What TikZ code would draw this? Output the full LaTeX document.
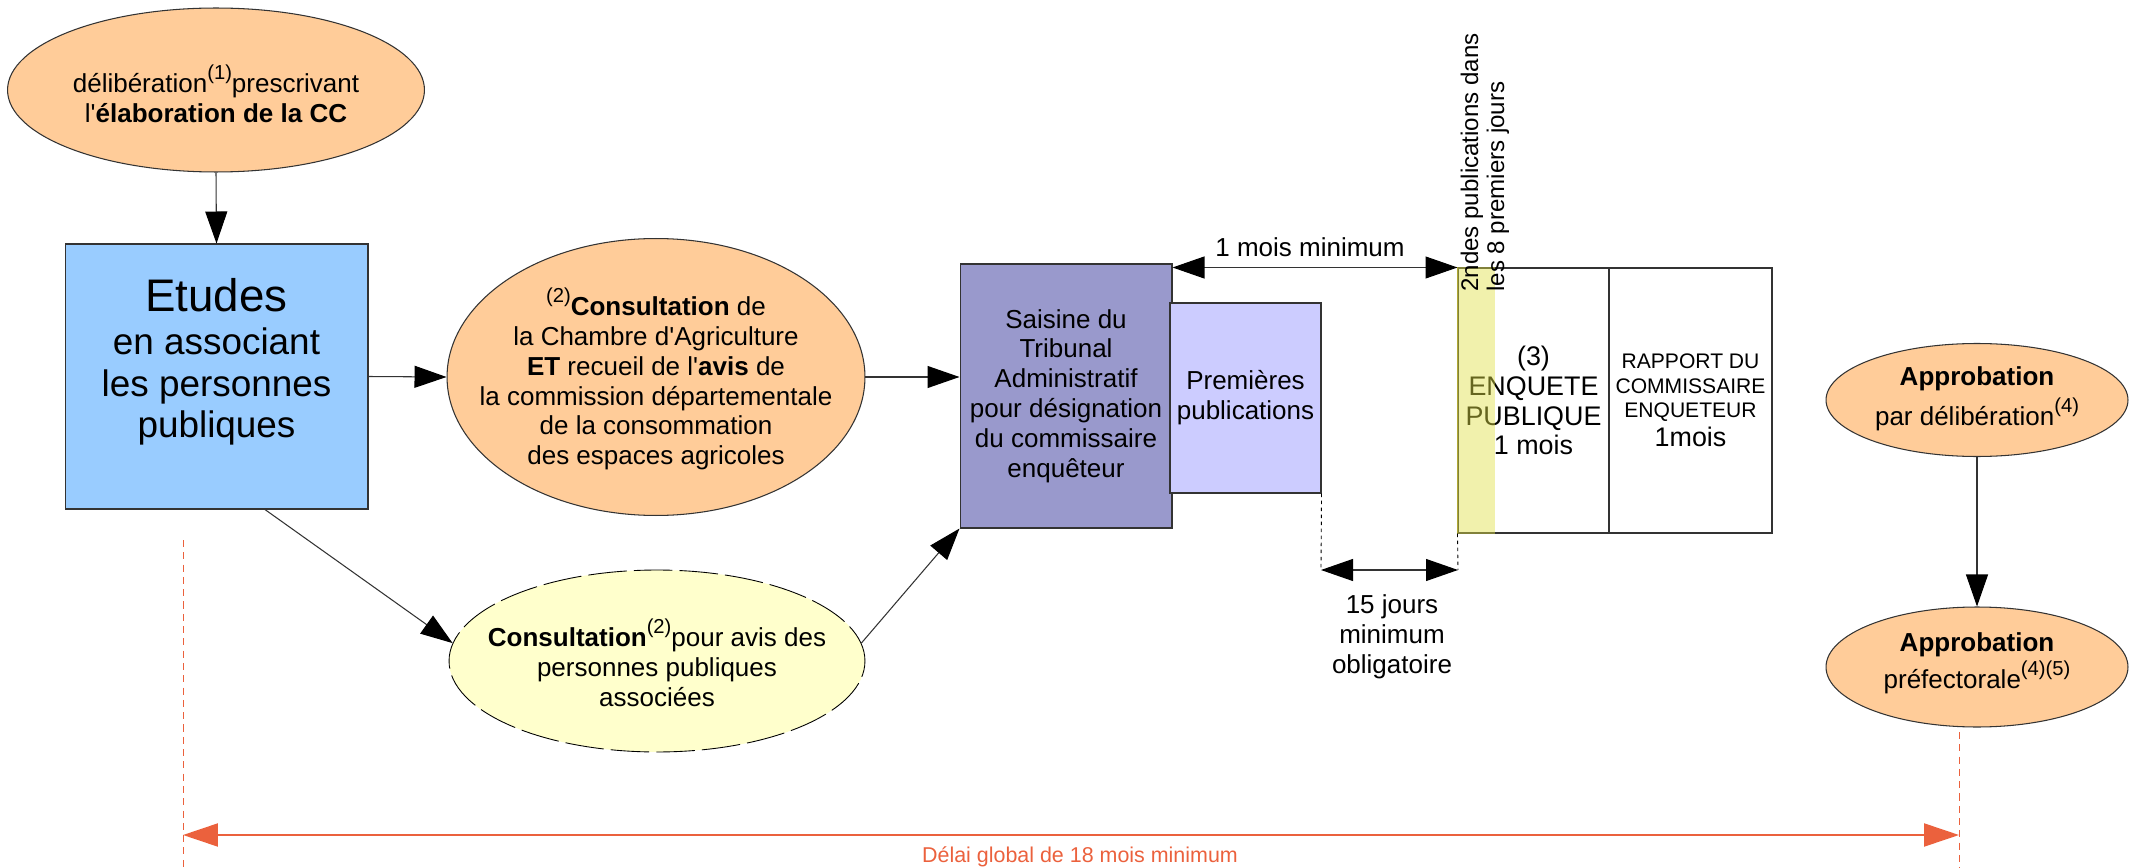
\documentclass[tikz,border=0pt]{standalone}
\usepackage{fontspec}
\setmainfont{Liberation Sans}[Ligatures=TeXOff]
\usetikzlibrary{arrows.meta,shapes.geometric}
\definecolor{orangeclair}{HTML}{FFCC99}
\definecolor{jauneclair}{HTML}{FFFFCC}
\definecolor{bleuclair}{HTML}{99CCFF}
\definecolor{mauve}{HTML}{9999CC}
\definecolor{mauveclair}{HTML}{CCCCFF}
\definecolor{bande}{RGB}{225,225,70}
\definecolor{rouge}{HTML}{EB613D}
\newcommand{\expo}[1]{\raisebox{0.5em}{\fontsize{11.5}{12}\selectfont #1}}

\begin{document}
\begin{tikzpicture}[x=0.02cm,y=-0.02cm,
  font=\fontsize{14.8}{17}\selectfont,
  trait/.style={draw=black!80,line width=0.6pt},
  ovale/.style={ellipse,trait,fill=orangeclair,inner sep=0pt},
  boite/.style={rectangle,trait,inner sep=2pt,align=center},
  txt/.style={align=center,inner sep=0pt},
  fleche/.style={draw=black!80,line width=0.6pt,-{Triangle[length=0.64cm,width=0.44cm,color=black]}},
  dblfleche/.style={draw=black!80,line width=0.6pt,{Triangle[length=0.64cm,width=0.44cm,color=black]}-{Triangle[length=0.64cm,width=0.44cm,color=black]}},
  repere/.style={draw=black,line width=0.5pt,dash pattern=on 2pt off 2pt},
  reperer/.style={draw=rouge,line width=0.5pt,dash pattern=on 4pt off 3pt}]
\useasboundingbox (0,0) rectangle (2134,868);

\node[ovale,minimum width=8.34cm,minimum height=3.28cm] (delib) at (216,90) {};
\node[txt] (delibtxt) at (216,94) {délibération\expo{(1)}prescrivant\\l'\textbf{élaboration de la CC}};

\node[boite,fill=bleuclair,minimum width=6.06cm,minimum height=5.30cm] (etudes) at (216.5,376.5) {};
\node[txt,font=\fontsize{21}{23.5}\selectfont] (etudestxt) at (216.5,362) {{\fontsize{26}{30}\selectfont Etudes}\\[1pt]en associant\\les personnes\\publiques};

\node[ovale,minimum width=8.36cm,minimum height=5.54cm] (consult) at (656,377) {};
\node[txt] (consulttxt) at (656,379) {\expo{(2)}\textbf{Consultation} de\\la Chambre d'Agriculture\\\textbf{ET} recueil de l'\textbf{avis} de\\la commission départementale\\de la consommation\\des espaces agricoles};

\node[ellipse,draw=black,line width=0.5pt,dash pattern=on 22pt off 4pt,fill=jauneclair,inner sep=0pt,minimum width=8.32cm,minimum height=3.64cm] (ppa) at (657,661) {};
\node[txt] (ppatxt) at (657,663) {\textbf{Consultation}\expo{(2)}pour avis des\\personnes publiques\\associées};

\node[boite,fill=mauve,minimum width=4.24cm,minimum height=5.28cm] (saisine) at (1066,396) {Saisine du\\Tribunal\\Administratif\\pour désignation\\du commissaire\\enquêteur};
\node[boite,fill=mauveclair,minimum width=3.02cm,minimum height=3.80cm] (prem) at (1245.5,398) {Premières\\publications};

\node[boite,font=\fontsize{15.3}{17}\selectfont,minimum width=3.02cm,minimum height=5.30cm] (enq) at (1533.5,400.5) {(3)\\ENQUETE\\PUBLIQUE\\1 mois};
\node[boite,font=\fontsize{12}{13.7}\selectfont,minimum width=3.26cm,minimum height=5.30cm] (rapport) at (1690.5,400.5) {RAPPORT DU\\COMMISSAIRE\\ENQUETEUR\\[3pt]{\fontsize{15.3}{17}\selectfont 1mois}};
\fill[bande,fill opacity=0.45] ([xshift=0.3pt]enq.north west) rectangle ([xshift=0.76cm]enq.south west);
\draw[olive!70,line width=0.5pt] (enq.north west) -- (enq.south west);
\node[txt,rotate=90,anchor=west,align=left,font=\fontsize{13.7}{14.8}\selectfont] (secondes) at (1485,292) {2ndes publications dans\\les 8 premiers jours};

\node[ovale,minimum width=6.04cm,minimum height=2.26cm] (appro1) at (1977,400) {};
\node[txt] (appro1txt) at (1977,399) {\textbf{Approbation}\\[3pt]par délibération\expo{(4)}};
\node[ovale,minimum width=6.04cm,minimum height=2.40cm] (appro2) at (1977,667) {};
\node[txt] (appro2txt) at (1977,663) {\textbf{Approbation}\\[1pt]préfectorale\expo{(4)(5)}};

\draw[fleche] (delib.south) -- (etudes.north);
\draw[fleche] (etudes.east) -- (consult.west);
\draw[fleche] (consult.east) -- (consult.east -| saisine.west);
\draw[fleche] (etudes.-70.5) -- (ppa.175);
\draw[fleche] (ppa.5) -- (saisine.south west);
\draw[fleche] (appro1.south) -- (appro2.north);

\draw[dblfleche] (enq.north west -| saisine.east) -- (enq.north west);
\node (unmois) at (1310,247) {1 mois minimum};

\coordinate (q1) at (1321,570);
\coordinate (q2) at (1458,570);
\draw[repere] (prem.south east) -- (q1);
\draw[repere] (enq.south west) -- (q2);
\draw[dblfleche] (q1) -- (q2);
\node[txt] (quinze) at (1392,637) {15 jours\\minimum\\obligatoire};

\coordinate (dl) at (183,835);
\coordinate (dr) at (1959,835);
\draw[reperer] (183,540) -- (183,868);
\draw[reperer] (1959,732) -- (1959,868);
\draw[draw=rouge,line width=1.2pt,{Triangle[length=0.7cm,width=0.46cm]}-{Triangle[length=0.7cm,width=0.46cm]}] (dl) -- (dr);
\node[text=rouge,font=\fontsize{12.2}{14}\selectfont] (delai) at (1080,857) {Délai global de 18 mois minimum};
\end{tikzpicture}
\end{document}
